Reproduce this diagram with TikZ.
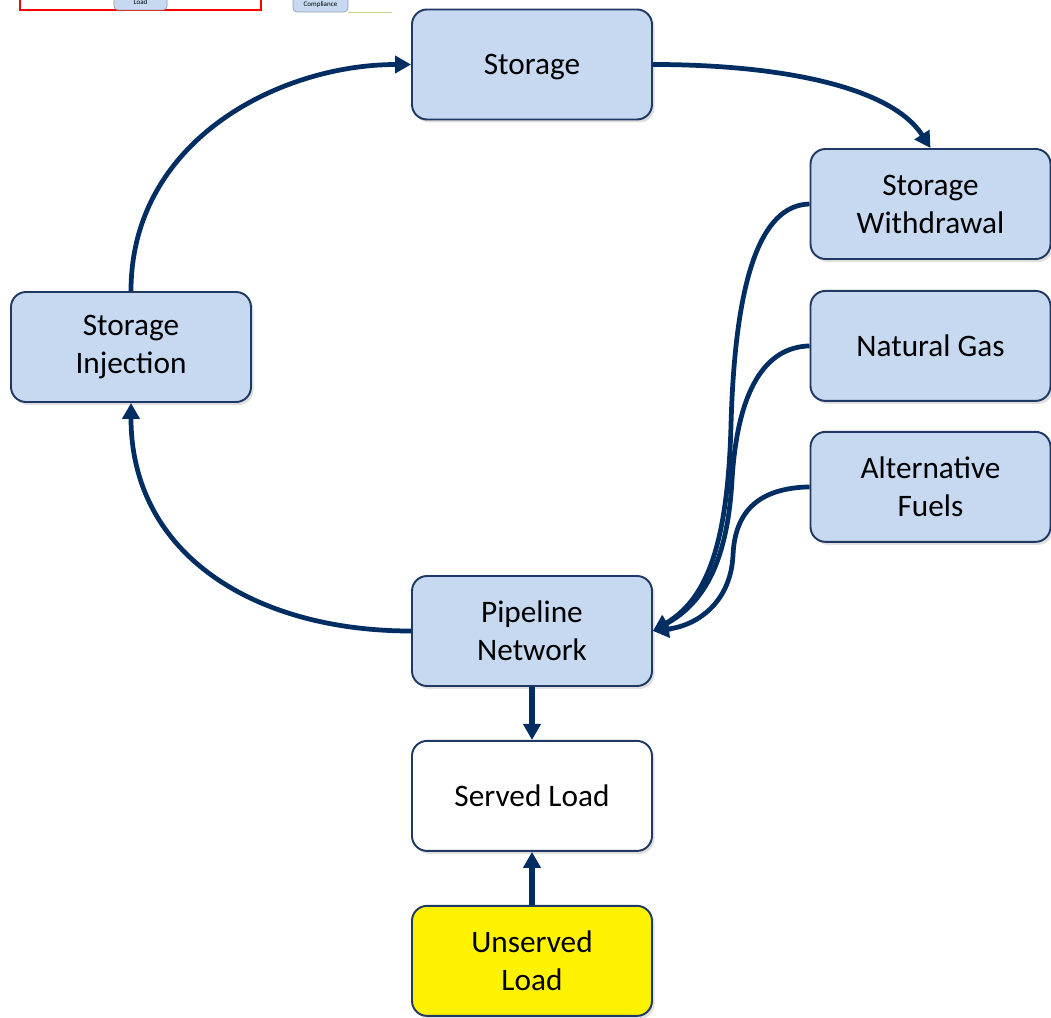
\documentclass[tikz,border=0pt]{standalone}
\usepackage{fontspec}
\setmainfont{Carlito}
\usepackage{xcolor}
\usepackage{tikz}
\usetikzlibrary{arrows.meta,positioning,shadows}
\definecolor{gasfill}{RGB}{198,217,240}
\definecolor{gasedge}{RGB}{31,56,100}
\definecolor{flowblue}{RGB}{0,45,98}
\definecolor{tabline}{RGB}{200,210,140}

\begin{document}
\begin{tikzpicture}[font=\fontsize{17.8}{21.6}\selectfont,>={Triangle[length=0.32cm,width=0.34cm]},node distance=1.06cm]
\tikzstyle{gasbox}=[draw=gasedge,line width=1.1pt,fill=gasfill,rounded corners=0.3cm,align=center,minimum width=4.8cm,minimum height=2.2cm,drop shadow={opacity=0.25,shadow xshift=0.05cm,shadow yshift=-0.06cm}]
\tikzstyle{flow}=[->,draw=flowblue,line width=2.7pt]
\tikzstyle{tab}=[draw=gasedge!50,fill=gasfill,rounded corners=0.08cm,line width=0.4pt,font=\fontsize{4}{5}\selectfont,minimum height=0.3cm,inner sep=0pt]
\useasboundingbox (0,0) rectangle (21.02,-20.36);
\clip (0,0) rectangle (21.02,-20.36);
% cut-off strip along the top edge
\draw[red,line width=0.04cm] (0.40,0.6) rectangle (5.22,-0.20);
\node[tab,minimum width=1.06cm] (loadtab) at (2.81,-0.05) {Load};
\node[tab,minimum width=1.1cm] (compliancetab) at (6.41,-0.09) {Compliance};
\draw[tabline,line width=0.6pt] (compliancetab.south east) -- ++(0.88,0);
% boxes
\node[gasbox,text depth=0pt] (storage) at (10.64,-1.29) {Storage};
\node[gasbox] (withdrawal) at (18.61,-4.08) {Storage\\Withdrawal};
\node[gasbox,below=0.60cm of withdrawal] (natgas) {Natural Gas};
\node[gasbox,below=0.58cm of natgas] (altfuel) {Alternative\\Fuels};
\node[gasbox] (injection) at (2.62,-6.94) {Storage\\Injection};
\node[gasbox] (pipeline) at (10.64,-12.62) {Pipeline\\Network};
\node[gasbox,fill=white,below=of pipeline] (served) {Served Load};
\node[gasbox,fill=yellow,below=of served] (unserved) {Unserved\\Load};
% storage loop
\draw[flow] (injection.north) .. controls (2.62,-2.8) and (5.6,-1.29) .. (storage.west);
\draw[flow] (storage.east) .. controls (15.5,-1.29) and (17.8,-1.7) .. (withdrawal.north);
\draw[flow] (pipeline.west) .. controls (5.1,-12.62) and (2.62,-11.1) .. (injection.south);
% supplies into the network
\draw[flow] (withdrawal.west) .. controls (15.2,-4.1) and (14.7,-5.6) .. (14.62,-8.5) .. controls (14.55,-11.0) and (14.1,-12.0) .. (pipeline.east);
\draw[flow] (natgas.west) .. controls (15.3,-6.94) and (14.75,-7.8) .. (14.64,-9.6) .. controls (14.55,-11.2) and (14.1,-12.05) .. (pipeline.east);
\draw[flow] (altfuel.west) .. controls (15.2,-9.76) and (14.7,-10.2) .. (14.66,-11.1) .. controls (14.62,-12.0) and (14.0,-12.5) .. (pipeline.east);
% load
\draw[flow,line width=3.2pt] (pipeline.south) -- (served.north);
\draw[flow,line width=3.2pt] (unserved.north) -- (served.south);
\end{tikzpicture}
\end{document}
